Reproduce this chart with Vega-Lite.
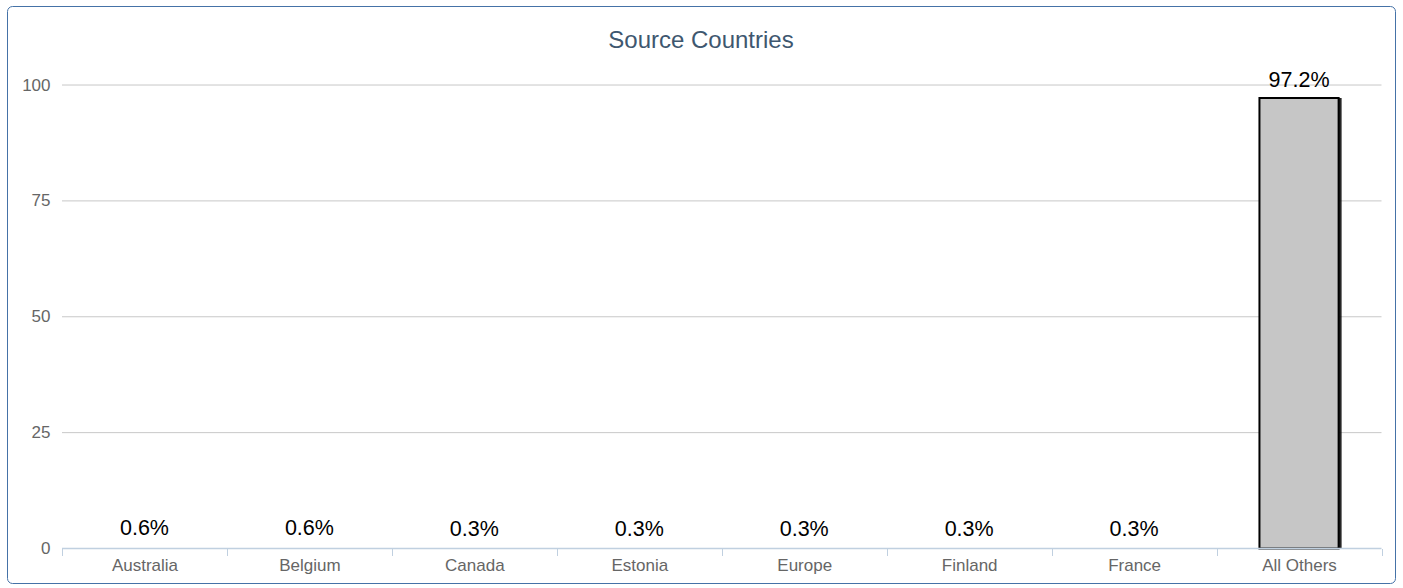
{
  "$schema": "https://vega.github.io/schema/vega-lite/v6.json",
  "width": 1388,
  "height": 577,
  "autosize": {"type": "none"},
  "padding": {"left": 7, "top": 6, "right": 8, "bottom": 5},
  "background": "white",
  "config": {
    "font": "Liberation Sans",
    "view": {"stroke": "#4572A7", "strokeWidth": 1, "cornerRadius": 5}
  },
  "title": {
    "text": "Source Countries",
    "fontSize": 24,
    "fontWeight": "normal",
    "color": "#3E576F",
    "anchor": "middle",
    "frame": "group",
    "baseline": "alphabetic",
    "offset": -66
  },
  "datasets": {
    "bars": [
      {"country": "Australia", "value": 0.6, "label": "0.6%"},
      {"country": "Belgium", "value": 0.6, "label": "0.6%"},
      {"country": "Canada", "value": 0.3, "label": "0.3%"},
      {"country": "Estonia", "value": 0.3, "label": "0.3%"},
      {"country": "Europe", "value": 0.3, "label": "0.3%"},
      {"country": "Finland", "value": 0.3, "label": "0.3%"},
      {"country": "France", "value": 0.3, "label": "0.3%"},
      {"country": "All Others", "value": 97.2, "label": "97.2%"}
    ],
    "grid": [
      {"v": 0, "first": "Australia", "last": "All Others"},
      {"v": 25, "first": "Australia", "last": "All Others"},
      {"v": 50, "first": "Australia", "last": "All Others"},
      {"v": 75, "first": "Australia", "last": "All Others"},
      {"v": 100, "first": "Australia", "last": "All Others"}
    ]
  },
  "layer": [
    {
      "data": {"name": "grid"},
      "transform": [{"filter": "datum.v > 0"}],
      "mark": {"type": "rule", "color": "#C8C8C8", "strokeWidth": 1},
      "encoding": {
        "x": {
          "field": "first",
          "type": "nominal",
          "bandPosition": 0,
          "scale": {
            "domain": ["Australia", "Belgium", "Canada", "Estonia", "Europe", "Finland", "France", "All Others"],
            "paddingInner": 0,
            "paddingOuter": 0.2076,
            "align": 0.803
          },
          "axis": {
            "orient": "bottom",
            "offset": -34.5,
            "domain": false,
            "grid": false,
            "ticks": true,
            "tickBand": "extent",
            "tickColor": "#C0D0E0",
            "tickSize": 7,
            "tickWidth": 1,
            "labelColor": "#666666",
            "labelFontSize": 17,
            "labelPadding": 2,
            "labelAngle": 0,
            "title": null
          }
        },
        "x2": {"field": "last", "bandPosition": 1},
        "y": {
          "field": "v",
          "type": "quantitative",
          "scale": {"domain": [-7.443, 117.05], "nice": false, "zero": false},
          "axis": {
            "orient": "left",
            "offset": -43,
            "values": [0, 25, 50, 75, 100],
            "domain": false,
            "grid": false,
            "ticks": false,
            "tickSize": 0,
            "labelPadding": 0,
            "labelColor": "#666666",
            "labelFontSize": 17,
            "title": null
          }
        }
      }
    },
    {
      "data": {"name": "bars"},
      "transform": [{"filter": "datum.value > 1"}],
      "mark": {"type": "bar", "width": {"band": 0.48}, "color": "#000000", "opacity": 0.85, "xOffset": 3},
      "encoding": {
        "x": {"field": "country", "type": "nominal"},
        "y": {"field": "value", "type": "quantitative"}
      }
    },
    {
      "data": {"name": "bars"},
      "transform": [{"filter": "datum.value > 1"}],
      "mark": {"type": "bar", "width": {"band": 0.48}, "fill": "#C6C6C6", "stroke": "#000000", "strokeWidth": 2},
      "encoding": {
        "x": {"field": "country", "type": "nominal"},
        "y": {"field": "value", "type": "quantitative"}
      }
    },
    {
      "data": {"name": "grid"},
      "transform": [{"filter": "datum.v == 0"}],
      "mark": {"type": "rule", "color": "#C0D0E0", "strokeWidth": 1.5},
      "encoding": {
        "x": {"field": "first", "type": "nominal", "bandPosition": 0},
        "x2": {"field": "last", "bandPosition": 1},
        "y": {"field": "v", "type": "quantitative"}
      }
    },
    {
      "data": {"name": "bars"},
      "mark": {"type": "text", "fontSize": 21.5, "color": "#000000", "baseline": "alphabetic", "align": "center", "dy": -11},
      "encoding": {
        "x": {"field": "country", "type": "nominal"},
        "y": {"field": "value", "type": "quantitative"},
        "text": {"field": "label"}
      }
    }
  ]
}
